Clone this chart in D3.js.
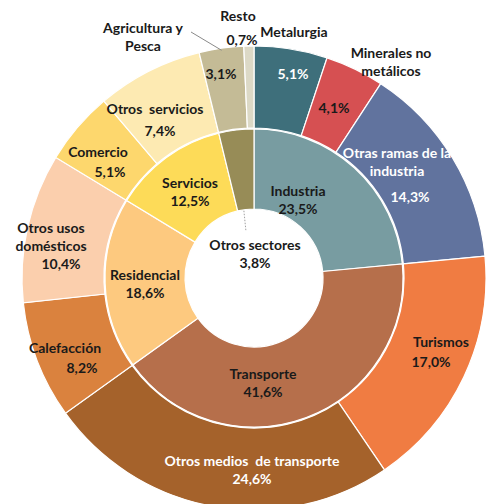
<!DOCTYPE html>
<html><head><meta charset="utf-8">
<script src="https://cdn.jsdelivr.net/npm/d3@7"></script>
<style>body{margin:0;background:#fff}svg{display:block}text{font-family:Lato,"Open Sans",sans-serif;font-weight:bold;font-size:14px}</style>
</head><body><svg id="c" width="491" height="504"></svg>
<script>
const innerLabels = ["Industria","Transporte","Residencial","Servicios","Otros sectores"];
const innerValues = [23.5,41.6,18.6,12.5,3.8];
const innerColors = ["#789ca1","#b66f4b","#fdc97f","#fddb58","#978c57"];

const outerLabels = ["Metalurgia","Minerales no metálicos","Otras ramas de la industria","Turismos","Otros medios de transporte","Calefacción","Otros usos domésticos","Comercio","Otros servicios","Agricultura y Pesca","Resto"];
const outerValues = [5.1,4.1,14.3,17.0,24.6,8.2,10.4,5.1,7.4,3.1,0.7];
const outerColors = ["#3e6f7b","#d65052","#61739e","#f07c42","#a5622b","#da823e","#fbcfad","#fdd76d","#fdeab2","#c4bb96","#dcd9c6"];

// label layout: lines of text, position, colour
const labelLayout = [
 {lines:["Industria","23,5%"], x:298, y:200, c:"#1a1a1a"},
 {lines:["Transporte","41,6%"], x:263, y:383, c:"#1a1a1a"},
 {lines:["Residencial","18,6%"], x:145, y:284, c:"#1a1a1a"},
 {lines:["Servicios","12,5%"], x:190, y:192, c:"#1a1a1a"},
 {lines:["Otros sectores","3,8%"], x:255, y:254, c:"#1a1a1a"},
 {lines:["Metalurgia"], x:294, y:32, c:"#1a1a1a"},
 {lines:["5,1%"], x:293, y:74, c:"#ffffff"},
 {lines:["Minerales no","metálicos"], x:391, y:62, c:"#1a1a1a"},
 {lines:["4,1%"], x:334, y:108, c:"#1a1a1a"},
 {lines:["Otras ramas de la","industria"], x:397, y:162, c:"#ffffff"},
 {lines:["14,3%"], x:410, y:197, c:"#ffffff"},
 {lines:["Turismos"], x:441, y:342, c:"#1a1a1a"},
 {lines:["17,0%"], x:431, y:362, c:"#1a1a1a"},
 {lines:["Otros medios  de transporte","24,6%"], x:252, y:470, c:"#ffffff"},
 {lines:["Calefacción"], x:65, y:348, c:"#1a1a1a"},
 {lines:["8,2%"], x:82, y:368, c:"#1a1a1a"},
 {lines:["Otros usos","domésticos"], x:51, y:237, c:"#1a1a1a"},
 {lines:["10,4%"], x:61, y:264, c:"#1a1a1a"},
 {lines:["Comercio"], x:98, y:152, c:"#1a1a1a"},
 {lines:["5,1%"], x:110, y:172, c:"#1a1a1a"},
 {lines:["Otros  servicios"], x:155, y:109, c:"#1a1a1a"},
 {lines:["7,4%"], x:160, y:131, c:"#1a1a1a"},
 {lines:["Agricultura y","Pesca"], x:143, y:37, c:"#1a1a1a"},
 {lines:["3,1%"], x:221, y:74, c:"#1a1a1a"},
 {lines:["Resto"], x:238, y:16, c:"#1a1a1a"},
 {lines:["0,7%"], x:242, y:40, c:"#1a1a1a"}
];

const svg = d3.select("#c");
const cx = 254, cy = 278;
const g = svg.append("g").attr("transform", `translate(${cx},${cy})`);
const pie = d3.pie().sort(null).value(d => d);
const arcIn = d3.arc().innerRadius(69).outerRadius(149);
const arcOut = d3.arc().innerRadius(150).outerRadius(232);

g.selectAll("path.in").data(pie(innerValues)).join("path")
 .attr("class","in").attr("d", arcIn)
 .attr("fill", (d,i) => innerColors[i]).attr("stroke","#fff").attr("stroke-width",1.2);
g.selectAll("path.out").data(pie(outerValues)).join("path")
 .attr("class","out").attr("d", arcOut)
 .attr("fill", (d,i) => outerColors[i]).attr("stroke","#fff").attr("stroke-width",1.2);

// leader lines
const pin = pie(innerValues), pout = pie(outerValues);
const pt = (a, r) => [Math.sin(a)*r, -Math.cos(a)*r];
{
  const a = (pin[4].startAngle + pin[4].endAngle)/2 - 0.03;
  const p1 = pt(a, 68), p2 = pt(a - 0.02, 48);
  g.append("line").attr("x1",p1[0]).attr("y1",p1[1]).attr("x2",p2[0]).attr("y2",p2[1])
   .attr("stroke","#a0a0a0").attr("stroke-width",1).attr("stroke-dasharray","1.5,1.5");
}
{
  const a = (pout[9].startAngle + pout[9].endAngle)/2;
  const p1 = pt(a, 230);
  g.append("line").attr("x1",p1[0]).attr("y1",p1[1]).attr("x2",191-cx).attr("y2",32-cy)
   .attr("stroke","#8a8a8a").attr("stroke-width",1);
}

const lh = 18.5;
labelLayout.forEach(L => {
  const t = svg.append("text").attr("text-anchor","middle").attr("fill",L.c);
  const n = L.lines.length;
  L.lines.forEach((s,i) => {
    t.append("tspan").attr("x",L.x).attr("y", L.y + (i - (n-1)/2)*lh).attr("dy","0.35em").attr("xml:space","preserve").text(s);
  });
});
</script></body></html>
